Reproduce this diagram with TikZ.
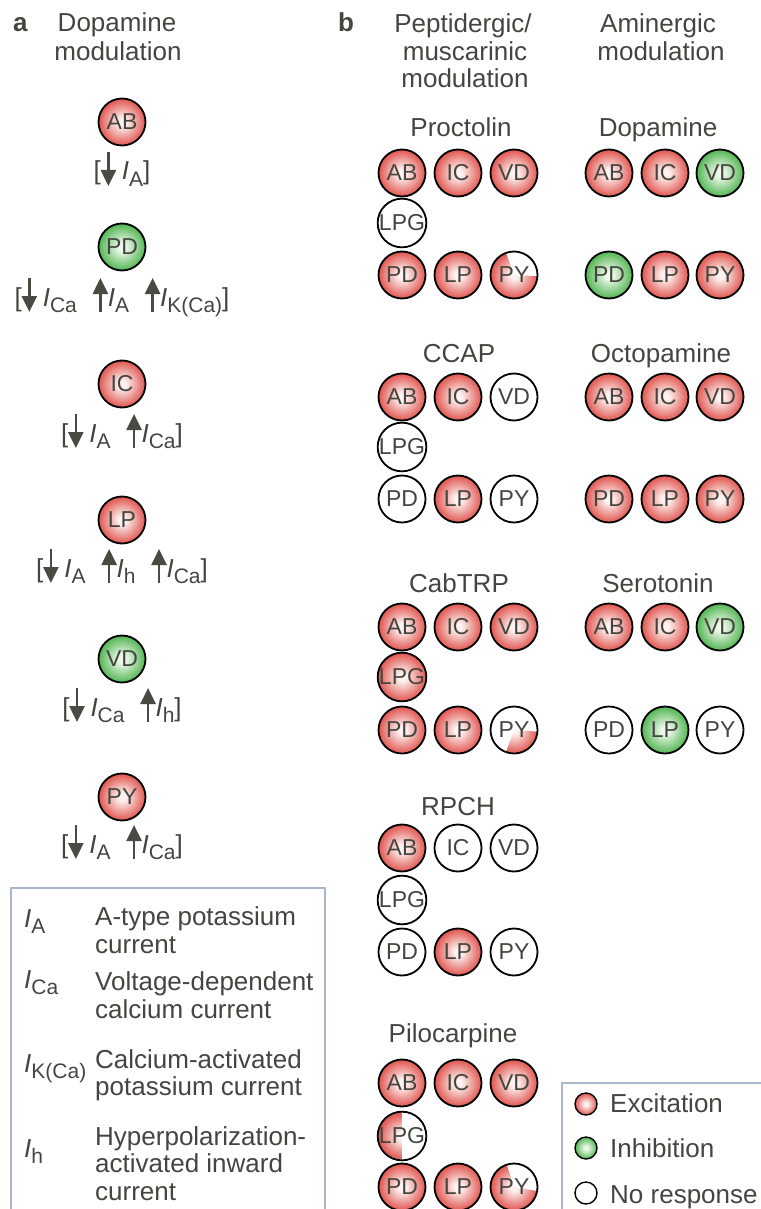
\documentclass[tikz,border=0pt]{standalone}
\usepackage{fontspec}
\setmainfont{Liberation Sans}
\usetikzlibrary{arrows.meta,calc}
\definecolor{txt}{HTML}{45453F}
\definecolor{excO}{HTML}{E0554F}
\definecolor{excI}{HTML}{FDF2F0}
\definecolor{inhO}{HTML}{52B552}
\definecolor{inhI}{HTML}{EEF8EB}
\definecolor{boxc}{HTML}{A9B6CB}
\definecolor{arrc}{HTML}{4A4A42}
\pgfdeclareradialshading{excsh}{\pgfpoint{0bp}{0bp}}{color(0bp)=(excI); color(4bp)=(excI); color(25bp)=(excO); color(50bp)=(excO)}
\pgfdeclareradialshading{inhsh}{\pgfpoint{0bp}{0bp}}{color(0bp)=(inhI); color(4bp)=(inhI); color(25bp)=(inhO); color(50bp)=(inhO)}
\newcommand\hfnt{\fontsize{26}{28}\selectfont}
\newcommand\cfnt{\fontsize{23}{23}\selectfont}
\newcommand\cur[1]{{\itshape I}\raisebox{-6pt}{\fontsize{21}{21}\selectfont #1}}
\newcommand\dnA{\tikz[baseline=0pt]\draw[arrc,line width=2.6pt,-{Triangle[width=15pt,length=16pt]}] (0,28pt) -- (0,-6pt);}
\newcommand\upA{\tikz[baseline=0pt]\draw[arrc,line width=2.6pt,-{Triangle[width=15pt,length=16pt]}] (0,-6pt) -- (0,28pt);}
\newcommand\gd{\hspace{6pt}}
\newcommand\gu{\hspace{0pt}}
\newcommand\gs{\hspace{16pt}}
\tikzset{
  cell/.style={circle, draw=black, line width=1.8pt, minimum size=47pt, inner sep=0pt, font=\cfnt, text=txt},
  exc/.style={cell, shading=excsh},
  inh/.style={cell, shading=inhsh},
  nor/.style={cell, fill=white},
  part/.style={cell},
  hd/.style={font=\hfnt, text=txt, anchor=base, inner sep=0pt},
  lft/.style={font=\hfnt, text=txt, anchor=base west, inner sep=0pt},
  legc/.style={circle, draw=black, line width=1.4pt, minimum size=22pt, inner sep=0pt},
  boxline/.style={draw=boxc, line width=1.2pt}
}
\begin{document}
\begin{tikzpicture}[x=1pt,y=-1pt]
\useasboundingbox (0,0) rectangle (760,1209);
% ---------- panel a ----------
\node[lft, font=\hfnt\bfseries] (la) at (13,32) {a};
\node[hd] (ha1) at (117,32) {Dopamine};
\node[hd] (ha2) at (118,61) {modulation};
\node[exc] (aAB) at (122,122) {AB};
\node[hd] (aABl) at (122,180) {[\dnA\gd\cur{A}]};
\node[inh] (aPD) at (122,247) {PD};
\node[hd] (aPDl) at (122,306) {[\dnA\gd\cur{Ca}\gs\upA\gu\cur{A}\gs\upA\gu\cur{K(Ca)}]};
\node[exc] (aIC) at (122,384) {IC};
\node[hd] (aICl) at (122,442) {[\dnA\gd\cur{A}\gs\upA\gu\cur{Ca}]};
\node[exc] (aLP) at (122,520) {LP};
\node[hd] (aLPl) at (122,577) {[\dnA\gd\cur{A}\gs\upA\gu\cur{h}\gs\upA\gu\cur{Ca}]};
\node[inh] (aVD) at (122,659) {VD};
\node[hd] (aVDl) at (122,716) {[\dnA\gd\cur{Ca}\gs\upA\gu\cur{h}]};
\node[exc] (aPY) at (122,797) {PY};
\node[hd] (aPYl) at (122,853) {[\dnA\gd\cur{A}\gs\upA\gu\cur{Ca}]};
% legend a
\draw[boxline] (11,1230) -- (11,888) -- (325,888) -- (325,1230);
\node[lft] (sA) at (24,927) {\cur{A}};
\node[lft] (dA1) at (95,925) {A-type potassium};
\node[lft] (dA2) at (95,953) {current};
\node[lft] (sCa) at (24,988) {\cur{Ca}};
\node[lft] (dCa1) at (95,990) {Voltage-dependent};
\node[lft] (dCa2) at (95,1018) {calcium current};
\node[lft] (sK) at (24,1072) {\cur{K(Ca)}};
\node[lft] (dK1) at (95,1068) {Calcium-activated};
\node[lft] (dK2) at (95,1095) {potassium current};
\node[lft] (sh) at (24,1157) {\cur{h}};
\node[lft] (dh1) at (95,1145) {Hyperpolarization-};
\node[lft] (dh2) at (95,1172) {activated inward};
\node[lft] (dh3) at (95,1200) {current};
% ---------- panel b ----------
\node[lft, font=\hfnt\bfseries] (lb) at (338,32) {b};
\node[hd] (hb1) at (463,33) {Peptidergic/};
\node[hd] (hb2) at (465,61) {muscarinic};
\node[hd] (hb3) at (465,88) {modulation};
\node[hd] (hc1) at (658,33) {Aminergic};
\node[hd] (hc2) at (661,61) {modulation};
% Proctolin
\node[hd] (tPro) at (461,137) {Proctolin};
\node[exc] (pAB) at (402,173) {AB};
\node[exc] (pIC) at (458,173) {IC};
\node[exc] (pVD) at (514,173) {VD};
\node[nor] (pLPG) at (402,223) {LPG};
\node[exc] (pPD) at (402,275) {PD};
\node[exc] (pLP) at (458,275) {LP};
\coordinate (cpPY) at (514,275);
\begin{scope}
\clip (cpPY) -- ($(cpPY)+(110:40pt)$) -- ($(cpPY)+(180:40pt)$) -- ($(cpPY)+(270:40pt)$) -- ($(cpPY)+(357:40pt)$) -- cycle;
\shade[shading=excsh] (cpPY) circle[radius=23.5pt];
\end{scope}
\node[part] (pPY) at (cpPY) {PY};
% Dopamine
\node[hd] (tDop) at (658,137) {Dopamine};
\node[exc] (dAB) at (609,173) {AB};
\node[exc] (dIC) at (665,173) {IC};
\node[inh] (dVD) at (720,173) {VD};
\node[inh] (dPD) at (609,275) {PD};
\node[exc] (dLP) at (665,275) {LP};
\node[exc] (dPY) at (720,275) {PY};
% CCAP
\node[hd] (tCC) at (459,362) {CCAP};
\node[exc] (cAB) at (402,397) {AB};
\node[exc] (cIC) at (458,397) {IC};
\node[nor] (cVD) at (514,397) {VD};
\node[nor] (cLPG) at (402,447) {LPG};
\node[nor] (cPD) at (402,499) {PD};
\node[exc] (cLP) at (458,499) {LP};
\node[nor] (cPY) at (514,499) {PY};
% Octopamine
\node[hd] (tOct) at (661,362) {Octopamine};
\node[exc] (oAB) at (609,397) {AB};
\node[exc] (oIC) at (665,397) {IC};
\node[exc] (oVD) at (720,397) {VD};
\node[exc] (oPD) at (609,499) {PD};
\node[exc] (oLP) at (665,499) {LP};
\node[exc] (oPY) at (720,499) {PY};
% CabTRP
\node[hd] (tCab) at (459,592) {CabTRP};
\node[exc] (kAB) at (402,627) {AB};
\node[exc] (kIC) at (458,627) {IC};
\node[exc] (kVD) at (514,627) {VD};
\node[exc] (kLPG) at (402,677) {LPG};
\node[exc] (kPD) at (402,730) {PD};
\node[exc] (kLP) at (458,730) {LP};
\coordinate (ckPY) at (514,730);
\begin{scope}
\clip (ckPY) -- ($(ckPY)+(-110:40pt)$) -- ($(ckPY)+(-55:40pt)$) -- ($(ckPY)+(-4:40pt)$) -- cycle;
\shade[shading=excsh] (ckPY) circle[radius=23.5pt];
\end{scope}
\node[part] (kPY) at (ckPY) {PY};
% Serotonin
\node[hd] (tSer) at (658,592) {Serotonin};
\node[exc] (sAB) at (609,627) {AB};
\node[exc] (sIC) at (665,627) {IC};
\node[inh] (sVD) at (720,627) {VD};
\node[nor] (sPD) at (609,730) {PD};
\node[inh] (sLP) at (665,730) {LP};
\node[nor] (sPY) at (720,730) {PY};
% RPCH
\node[hd] (tRP) at (458,815) {RPCH};
\node[exc] (rAB) at (402,848) {AB};
\node[nor] (rIC) at (458,848) {IC};
\node[nor] (rVD) at (514,848) {VD};
\node[nor] (rLPG) at (402,900) {LPG};
\node[nor] (rPD) at (402,952) {PD};
\node[exc] (rLP) at (458,952) {LP};
\node[nor] (rPY) at (514,952) {PY};
% Pilocarpine
\node[hd] (tPil) at (453,1042) {Pilocarpine};
\node[exc] (iAB) at (402,1083) {AB};
\node[exc] (iIC) at (458,1083) {IC};
\node[exc] (iVD) at (514,1083) {VD};
\coordinate (ciLPG) at (402,1136);
\begin{scope}
\clip (ciLPG) -- ($(ciLPG)+(90:40pt)$) -- ($(ciLPG)+(180:40pt)$) -- ($(ciLPG)+(270:40pt)$) -- cycle;
\shade[shading=excsh] (ciLPG) circle[radius=23.5pt];
\end{scope}
\node[part] (iLPG) at (ciLPG) {LPG};
\node[exc] (iPD) at (402,1187) {PD};
\node[exc] (iLP) at (458,1187) {LP};
\coordinate (ciPY) at (514,1187);
\begin{scope}
\clip (ciPY) -- ($(ciPY)+(108:40pt)$) -- ($(ciPY)+(180:40pt)$) -- ($(ciPY)+(270:40pt)$) -- ($(ciPY)+(350:40pt)$) -- cycle;
\shade[shading=excsh] (ciPY) circle[radius=23.5pt];
\end{scope}
\node[part] (iPY) at (ciPY) {PY};
% legend b
\draw[boxline] (562,1230) -- (562,1083) -- (780,1083);
\node[legc, shading=excsh] (gE) at (586,1104) {};
\node[lft] (gEt) at (610,1112) {Excitation};
\node[legc, shading=inhsh] (gI) at (586,1148) {};
\node[lft] (gIt) at (610,1157) {Inhibition};
\node[legc, fill=white] (gN) at (586,1193) {};
\node[lft] (gNt) at (610,1203) {No response};
\end{tikzpicture}
\end{document}
